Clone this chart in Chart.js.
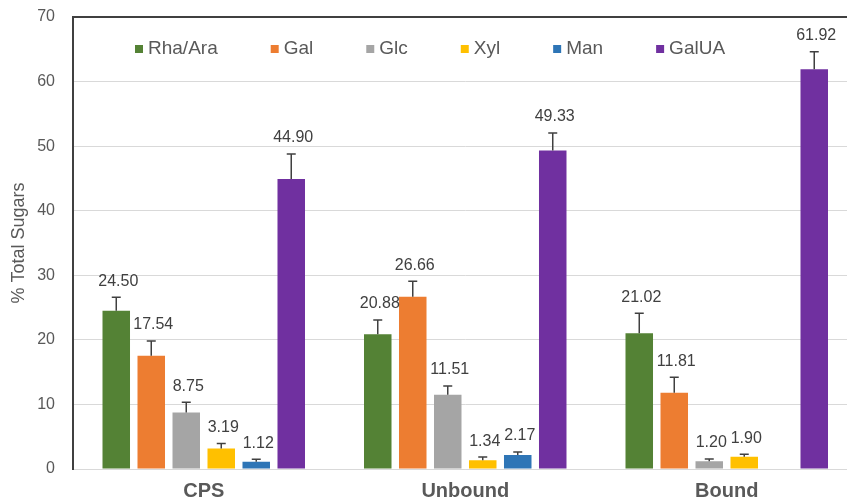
<!DOCTYPE html>
<html>
<head>
<meta charset="utf-8">
<script src="https://cdn.jsdelivr.net/npm/chart.js@4"></script>
<style>
  html, body { margin: 0; padding: 0; background: #fff; overflow: hidden; }
  #wrap { position: absolute; left: 0; top: 0; width: 860px; height: 505px; }
</style>
</head>
<body>
<div id="wrap"><canvas id="sugars" width="860" height="505"></canvas></div>
<script>
"use strict";

const categories = ["CPS", "Unbound", "Bound"];
const seriesNames = ["Rha/Ara", "Gal", "Glc", "Xyl", "Man", "GalUA"];
const seriesColors = ["#548235", "#ED7D31", "#A5A5A5", "#FFC000", "#2E75B6", "#7030A0"];

// mean values per sugar, in order CPS / Unbound / Bound
const rhaAra = [24.50, 20.88, 21.02];
const gal = [17.54, 26.66, 11.81];
const glc = [8.75, 11.51, 1.20];
const xyl = [3.19, 1.34, 1.90];
const man = [1.12, 2.17, null];
const galUA = [44.90, 49.33, 61.92];

// + error
const rhaAraErr = [2.1, 2.2, 3.1];
const galErr = [2.3, 2.4, 2.4];
const glcErr = [1.6, 1.35, 0.35];
const xylErr = [0.75, 0.5, 0.4];
const manErr = [0.4, 0.45, null];
const galUAErr = [3.9, 2.7, 2.7];

const yTicks = [0, 10, 20, 30, 40, 50, 60, 70];

const values = [rhaAra, gal, glc, xyl, man, galUA];
const errors = [rhaAraErr, galErr, glcErr, xylErr, manErr, galUAErr];

const FONT = 'Arial, "Liberation Sans", sans-serif';

// error bars + value labels
const errorBars = {
    id: "errorBars",
    afterDatasetsDraw(chart) {
        const ctx = chart.ctx;
        const y = chart.scales.y;
        ctx.save();
        chart.data.datasets.forEach((ds, i) => {
            const meta = chart.getDatasetMeta(i);
            meta.data.forEach((bar, j) => {
                const v = ds.data[j];
                if (v === null) return;
                const top = y.getPixelForValue(v + ds.err[j]);
                ctx.strokeStyle = "#404040";
                ctx.lineWidth = 1.5;
                ctx.beginPath();
                ctx.moveTo(bar.x, bar.y);
                ctx.lineTo(bar.x, top);
                ctx.moveTo(bar.x - 4.5, top);
                ctx.lineTo(bar.x + 4.5, top);
                ctx.stroke();
                ctx.fillStyle = "#404040";
                ctx.font = "16px " + FONT;
                ctx.textAlign = "center";
                ctx.textBaseline = "middle";
                ctx.fillText(v.toFixed(2), bar.x + 2, top - 16);
            });
        });
        ctx.restore();
    }
};

// legend sits inside the plot, left of centre
const innerLegend = {
    id: "innerLegend",
    afterDraw(chart) {
        const ctx = chart.ctx;
        const area = chart.chartArea;
        let x = area.left + 62;
        const y = area.top + 32;
        ctx.save();
        ctx.font = "19px " + FONT;
        ctx.textBaseline = "middle";
        ctx.textAlign = "left";
        chart.data.datasets.forEach(ds => {
            ctx.fillStyle = ds.backgroundColor;
            ctx.fillRect(x, y - 4, 8, 8);
            ctx.fillStyle = "#595959";
            ctx.fillText(ds.label, x + 13, y);
            x += 13 + ctx.measureText(ds.label).width + 53;
        });
        ctx.restore();
    }
};

new Chart(document.getElementById("sugars"), {
    type: "bar",
    data: {
        labels: categories,
        datasets: seriesNames.map((name, i) => ({
            label: name,
            data: values[i],
            err: errors[i],
            backgroundColor: seriesColors[i],
            categoryPercentage: 0.803,
            barPercentage: 0.786
        }))
    },
    options: {
        responsive: false,
        animation: false,
        layout: { padding: { top: 17, right: 2.5, left: 0, bottom: 0 } },
        plugins: {
            legend: { display: false },
            tooltip: { enabled: false }
        },
        scales: {
            x: {
                grid: { display: false, drawTicks: false },
                border: { color: "#D9D9D9", width: 1 },
                ticks: {
                    color: "#595959",
                    font: { family: FONT, size: 20, weight: "bold" },
                    padding: 10
                },
                afterFit(scale) { scale.height = 36; }
            },
            y: {
                min: 0,
                max: 70,
                afterBuildTicks(scale) { scale.ticks = yTicks.map(v => ({ value: v })); },
                grid: {
                    drawTicks: false,
                    color: ctx => ctx.tick && ctx.tick.value === 70 ? "#404040" : "#D9D9D9",
                    lineWidth: ctx => ctx.tick && ctx.tick.value === 70 ? 2 : 1
                },
                border: { color: "#404040", width: 2 },
                ticks: {
                    color: "#595959",
                    font: { family: FONT, size: 16 },
                    padding: 18
                },
                title: {
                    display: true,
                    text: "% Total Sugars",
                    color: "#595959",
                    font: { family: FONT, size: 18 },
                    padding: { top: 8, bottom: 0 }
                },
                afterFit(scale) {
                    scale.width = 73;
                    scale.paddingTop = 0;
                    scale.paddingBottom = 0;
                }
            }
        }
    },
    plugins: [errorBars, innerLegend]
});
</script>
</body>
</html>
